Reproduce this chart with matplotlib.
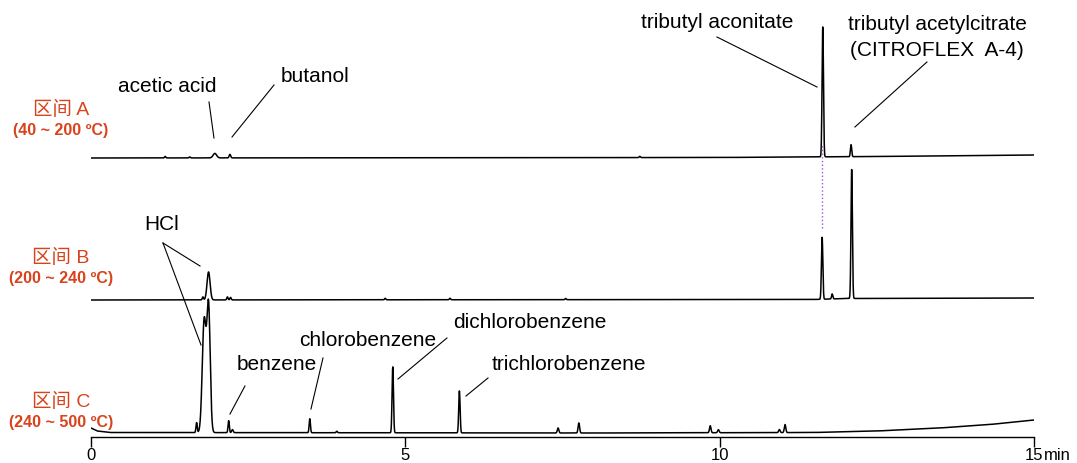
import numpy as np
import matplotlib
matplotlib.use("Agg")
import matplotlib.pyplot as plt

# retention time grid [min]
t = np.linspace(0, 15, 7500)

# peak tables: (time [min], height, sigma [min])
peaks_a = [(1.18, 1.5, 0.010), (1.57, 1.0, 0.010), (1.97, 4.5, 0.028), (2.21, 3.5, 0.012),
           (8.73, 1.2, 0.010), (11.64, 130, 0.011), (12.09, 12, 0.010)]
peaks_b = [(1.78, 3.0, 0.010), (1.87, 28, 0.024), (2.17, 3.0, 0.010), (2.22, 2.5, 0.010),
           (4.68, 1.5, 0.010), (5.71, 1.5, 0.010), (7.55, 1.2, 0.010),
           (11.63, 62, 0.011), (11.79, 5, 0.010), (12.10, 129, 0.011)]
peaks_c = [(1.68, 10, 0.010), (1.80, 112, 0.030), (1.87, 125, 0.026), (2.19, 12, 0.010),
           (2.25, 3, 0.012), (3.48, 14, 0.010), (3.91, 1.5, 0.010), (4.80, 66, 0.011),
           (5.86, 42, 0.011), (7.43, 5, 0.012), (7.76, 10, 0.012), (9.85, 7, 0.012),
           (9.98, 3, 0.012), (10.95, 3, 0.012), (11.04, 8, 0.012)]

# baseline knots (time, level) for each trace
base_a_t = [0, 10, 12.5, 15]
base_a_y = [279, 279.5, 280.5, 282]
base_b_t = [0, 11.5, 12.0, 15]
base_b_y = [137, 137.5, 138.5, 139]
base_c_t = [0, 0.1, 0.3, 8.0, 11.5, 12.5, 13.5, 14.3, 15.0]
base_c_y = [9, 6, 4.5, 4, 4.5, 6, 9, 12.5, 17]

ticks = [0, 5, 10, 15]
tick_labels = ['0', '5', '10', '15']

orange = '#d8431c'
purple = '#9b59d0'


def trace(peaks, bt, by):
    y = np.interp(t, bt, by)
    for t0, h, s in peaks:
        y = y + h * np.exp(-0.5 * ((t - t0) / s) ** 2)
    return y


fig = plt.figure(figsize=(10.77, 4.63), dpi=100)
ax = fig.add_axes([91 / 1077, 26 / 463, 943 / 1077, 437 / 463])
ax.set_xlim(0, 15)
ax.set_ylim(0, 437)

for pk, bt, by in [(peaks_a, base_a_t, base_a_y), (peaks_b, base_b_t, base_b_y),
                   (peaks_c, base_c_t, base_c_y)]:
    ax.plot(t, trace(pk, bt, by), color='black', lw=1.1)

ax.vlines(11.627, 209, 292, color=purple, lw=1, linestyles=':')

lab_font = dict(family=['Liberation Sans', 'DejaVu Sans'], fontsize=15, ha='center', va='center')
annots = [
    ('acetic acid', (1.22, 350), [((1.877, 335), (1.956, 299))]),
    ('butanol', (3.56, 360), [((2.911, 352), (2.243, 300))]),
    ('tributyl aconitate', (9.96, 414), [((9.957, 400), (11.548, 350))]),
    ('tributyl acetylcitrate', (13.46, 412), [((13.297, 375), (12.152, 310))]),
    ('(CITROFLEX  A-4)', (13.46, 387), []),
    ('HCl', (1.13, 212), [((1.145, 194), (1.734, 171)), ((1.145, 194), (1.750, 92))]),
    ('benzene', (2.958, 73), [((2.449, 51), (2.211, 23))]),
    ('chlorobenzene', (4.406, 97), [((3.690, 79), (3.499, 28))]),
    ('dichlorobenzene', (6.983, 114), [((5.662, 99), (4.883, 58))]),
    ('trichlorobenzene', (7.603, 72), [((6.315, 59), (5.965, 41))]),
]
for txt, pos, lines in annots:
    ax.text(pos[0], pos[1], txt, **lab_font)
    for (x0, y0), (x1, y1) in lines:
        ax.plot([x0, x1], [y0, y1], color='black', lw=0.8)

# range labels on the left
ranges = [('区间 A', '(40 ~ 200 ºC)', 327, 306),
          ('区间 B', '(200 ~ 240 ºC)', 179, 159),
          ('区间 C', '(240 ~ 500 ºC)', 35, 14)]
cjk = ['Liberation Sans', 'Noto Sans CJK SC']
for name, temp, y1, y2 in ranges:
    ax.text(-0.48, y1, name, color=orange, fontsize=14, family=cjk, ha='center', va='center')
    ax.text(-0.48, y2, temp, color=orange, fontsize=11.5, family=cjk, fontweight='bold',
            ha='center', va='center')

for s in ['top', 'right', 'left']:
    ax.spines[s].set_visible(False)
ax.spines['bottom'].set_linewidth(1.0)
ax.set_yticks([])
ax.set_xticks(ticks)
ax.set_xticklabels(tick_labels, family=['Liberation Sans'], fontsize=12)
ax.tick_params(axis='x', direction='out', length=7, width=1.0, pad=1)
ax.annotate('min', xy=(15, 0), xytext=(7.5, -8), textcoords='offset points',
            ha='left', va='top', fontsize=12, family=['Liberation Sans'],
            annotation_clip=False)

fig.savefig('out.png', dpi=100)
